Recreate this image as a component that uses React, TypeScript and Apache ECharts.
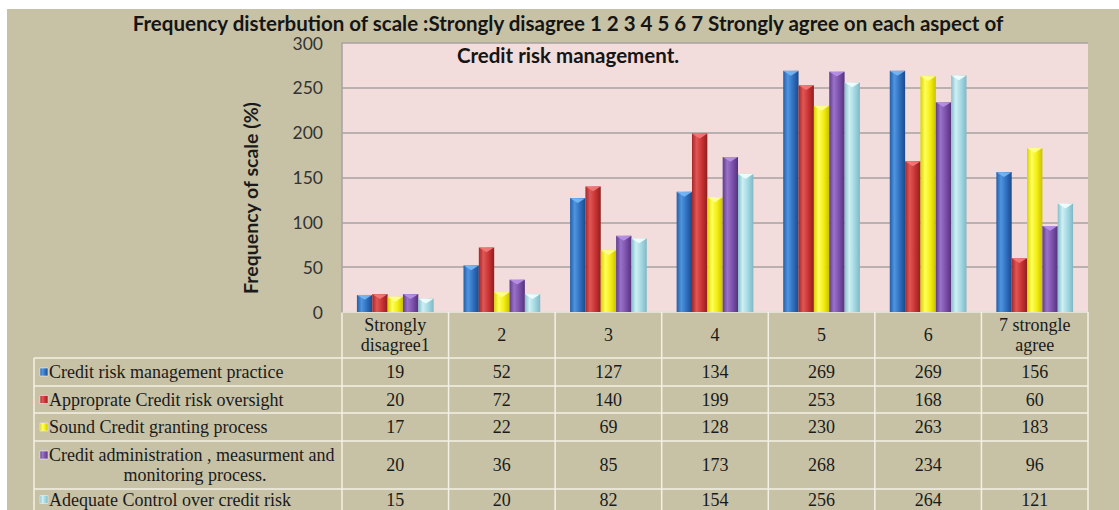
import React, { useEffect, useRef } from "react";
import * as echarts from "echarts";

const titleLine1 =
  "Frequency disterbution of scale :Strongly disagree 1 2 3 4 5 6 7 Strongly agree on each aspect of";
const titleLine2 = "Credit risk management.";
const yAxisTitle = "Frequency of scale (%)";

const categories = ["Strongly\ndisagree1", "2", "3", "4", "5", "6", "7 strongle\nagree"];
const seriesNames = [
  "Credit risk management practice",
  "Approprate Credit risk oversight",
  "Sound Credit granting process",
  "Credit administration , measurment and\nmonitoring process.",
  "Adequate Control over credit risk",
];
const practice = [19, 52, 127, 134, 269, 269, 156];
const oversight = [20, 72, 140, 199, 253, 168, 60];
const granting = [17, 22, 69, 128, 230, 263, 183];
const administration = [20, 36, 85, 173, 268, 234, 96];
const control = [15, 20, 82, 154, 256, 264, 121];
const yMin = 0;
const yMax = 300;
const yStep = 50;

const seriesData = [practice, oversight, granting, administration, control];

const palettes = [
  { stops: ["#245ea6", "#4f95e0", "#2f6fbe", "#1b4a8a"], tip: "#78b8f4" },
  { stops: ["#a82626", "#e05656", "#c93232", "#8f1f1f"], tip: "#f47a7a" },
  { stops: ["#d8d200", "#ffff5a", "#f3ec12", "#c9c200"], tip: "#ffff96" },
  { stops: ["#5f3b8c", "#9a72c8", "#7b50aa", "#55327c"], tip: "#b892e6" },
  { stops: ["#84bfcb", "#cfeff4", "#a2d8e2", "#7fb8c4"], tip: "#f2ffff" },
];

const TAN = "#c7c2a5";
const PINK = "#f2dcdc";
const GRIDLINE = "#a7a2a1";
const TABLE_LINE = "#f3f0e6";
const SERIF = '"Liberation Serif", "DejaVu Serif", serif';
const SANS = 'Lato, "Open Sans", sans-serif';
const TABLE_FS = 18;

function grad(stops: string[]) {
  return {
    type: "linear",
    x: 0,
    y: 0,
    x2: 1,
    y2: 0,
    colorStops: [
      { offset: 0, color: stops[0] },
      { offset: 0.3, color: stops[1] },
      { offset: 0.65, color: stops[2] },
      { offset: 1, color: stops[3] },
    ],
  };
}

export default function App() {
  const ref = useRef<HTMLDivElement>(null);

  useEffect(() => {
    document.body.style.margin = "0";
    const chart = echarts.init(ref.current!, undefined, { renderer: "svg" });

    const gridLeft = 335;
    const gridTop = 34;
    const gridWidth = 746;
    const gridHeight = 269;

    const barSeries: any[] = seriesData.map((d, i) => ({
      name: seriesNames[i],
      type: "bar",
      data: d,
      barGap: "0%",
      barCategoryGap: "28%",
      itemStyle: { color: grad(palettes[i].stops) },
      z: 2,
    }));
    const tipSeries: any[] = seriesData.map((d, i) => ({
      name: seriesNames[i] + " top",
      type: "pictorialBar",
      data: d,
      barGap: "0%",
      barCategoryGap: "28%",
      symbol: "triangle",
      symbolRotate: 180,
      symbolSize: ["100%", 5],
      symbolPosition: "end",
      itemStyle: { color: palettes[i].tip, opacity: 0.9 },
      silent: true,
      z: 3,
    }));

    chart.setOption({
      animation: false,
      backgroundColor: TAN,
      title: [
        {
          text: titleLine1,
          left: 561,
          top: 4,
          textAlign: "center",
          padding: 0,
          textStyle: {
            fontFamily: SANS,
            fontWeight: "bold",
            fontSize: 20.5,
            lineHeight: 20,
            color: "#151515",
          },
        },
        {
          text: titleLine2,
          left: 561,
          top: 36,
          textAlign: "center",
          padding: 0,
          textStyle: {
            fontFamily: SANS,
            fontWeight: "bold",
            fontSize: 20.5,
            lineHeight: 20,
            color: "#151515",
          },
        },
      ],
      grid: {
        left: gridLeft,
        top: gridTop,
        width: gridWidth,
        height: gridHeight,
        show: true,
        backgroundColor: PINK,
        borderWidth: 0,
        containLabel: false,
      },
      xAxis: {
        type: "category",
        data: categories,
        axisLine: { show: false },
        axisTick: { show: false },
        axisLabel: {
          interval: 0,
          margin: 23,
          verticalAlign: "middle",
          fontFamily: SERIF,
          fontSize: TABLE_FS,
          lineHeight: 20,
          color: "#1a1a1a",
        },
      },
      yAxis: {
        type: "value",
        min: yMin,
        max: yMax,
        interval: yStep,
        axisLine: { show: true, lineStyle: { color: GRIDLINE, width: 1.5 } },
        axisTick: { show: false },
        splitLine: { show: true, lineStyle: { color: GRIDLINE, width: 1.5 } },
        axisLabel: {
          margin: 19,
          fontFamily: SANS,
          fontSize: 17.5,
          lineHeight: 15,
          color: "#333333",
        },
      },
      series: [...barSeries, ...tipSeries],
    });

    // Build data table from the axis scale
    const centers = categories.map((_, i) => chart.convertToPixel({ xAxisIndex: 0 }, i) as number);
    const band = centers.length > 1 ? centers[1] - centers[0] : gridWidth;
    const bounds = [centers[0] - band / 2, ...centers.map((c) => c + band / 2)];
    const tableLeft = 27;
    const headerTop = gridTop + gridHeight;
    const rowLines = [349, 377, 404, 432, 480];
    const bottom = 505;
    const rowCenters = [363, 390.5, 418, 456, 490.5];

    const els: any[] = [];
    const line = (x1: number, y1: number, x2: number, y2: number) =>
      els.push({
        type: "line",
        shape: { x1, y1, x2, y2 },
        style: { stroke: TABLE_LINE, lineWidth: 1.5 },
        silent: true,
      });
    line(bounds[0], headerTop, bounds[bounds.length - 1], headerTop);
    rowLines.forEach((y) => line(tableLeft, y, bounds[bounds.length - 1], y));
    bounds.forEach((x) => line(x, headerTop, x, bottom));
    line(tableLeft, rowLines[0], tableLeft, bottom);

    const txt = (text: string, x: number, y: number, align: string, extra: any = {}) => ({
      type: "text",
      silent: true,
      style: {
        text,
        x,
        y,
        align,
        verticalAlign: "middle",
        textAlign: align,
        textVerticalAlign: "middle",
        fontFamily: SERIF,
        fontSize: TABLE_FS,
        fill: "#1a1a1a",
        ...extra,
      },
    });

    seriesData.forEach((d, si) => {
      const yc = rowCenters[si];
      d.forEach((v, ci) => {
        els.push(txt(String(v), centers[ci], yc, "center"));
      });
      const parts = seriesNames[si].split("\n");
      const multi = parts.length > 1;
      const firstY = multi ? yc - 10 : yc;
      els.push({
        type: "rect",
        silent: true,
        shape: { x: 33, y: firstY - 4, width: 8, height: 8 },
        style: { fill: grad(palettes[si].stops), stroke: "#eeeeee", lineWidth: 0.6 },
      });
      els.push(txt(parts[0], 42, firstY, "left"));
      if (multi) {
        els.push(txt(parts[1], 188, firstY + 20, "center"));
      }
    });

    els.push({
      type: "text",
      silent: true,
      x: 243,
      y: 189,
      rotation: Math.PI / 2,
      style: {
        text: yAxisTitle,
        x: 0,
        y: 0,
        align: "center",
        verticalAlign: "middle",
        textAlign: "center",
        textVerticalAlign: "middle",
        fontFamily: SANS,
        fontWeight: "bold",
        fontSize: 19.5,
        fill: "#1a1a1a",
      },
    });

    chart.setOption({ graphic: { elements: els } });

    return () => chart.dispose();
  }, []);

  return (
    <div style={{ position: "relative", width: 1119, height: 510, background: "#ffffff", overflow: "hidden" }}>
      <div ref={ref} style={{ position: "absolute", left: 7, top: 9, width: 1112, height: 501 }} />
    </div>
  );
}
